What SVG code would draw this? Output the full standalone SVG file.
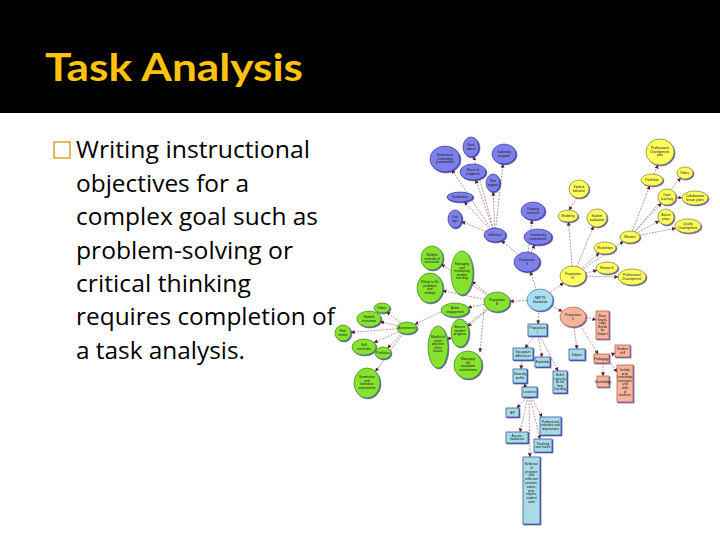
<svg xmlns="http://www.w3.org/2000/svg" width="720" height="540" viewBox="0 0 720 540">
<defs>
<style>
.title{font-family:Lato,"Liberation Sans",sans-serif;font-weight:bold;font-size:38px;fill:#FFC20E}
.body{font-family:"Open Sans","Liberation Sans",sans-serif;font-size:23px;fill:#000}
.n{font-family:"Liberation Sans",Arial,sans-serif;font-size:3.2px;fill:#1a1a1a;text-anchor:middle}
.bl{fill:#7c80e8;stroke:#2a2a9a;stroke-width:0.6}
.ye{fill:#ffff5e;stroke:#707000;stroke-width:0.6}
.gr{fill:#86e22e;stroke:#2e7a00;stroke-width:0.6}
.cb{fill:#a9def0;stroke:#2f6f9f;stroke-width:0.6}
.pk{fill:#f7b49c;stroke:#b05a3a;stroke-width:0.6}
.lb{fill:#a8dbe6;stroke:#2a48a0;stroke-width:0.7}
.pr{fill:#f7b49c;stroke:#b05a3a;stroke-width:0.7}
.c line{stroke:#8a5060;stroke-width:0.6;stroke-dasharray:2 1.2;fill:none;marker-end:url(#ah)}
</style>
<marker id="ah" viewBox="0 0 6 6" refX="5.5" refY="3" markerWidth="4" markerHeight="4" orient="auto" markerUnits="userSpaceOnUse">
<path d="M0,0 L6,3 L0,6 z" fill="#5a2030"/>
</marker>
<filter id="sh" x="-20%" y="-20%" width="150%" height="150%">
<feDropShadow dx="0.9" dy="0.9" stdDeviation="0.2" flood-color="#222288" flood-opacity="0.8"/>
</filter>
</defs>
<rect width="720" height="540" fill="#fff"/>
<rect width="720" height="113" fill="#000"/>
<text class="title" x="45" y="81" textLength="258" lengthAdjust="spacingAndGlyphs">Task Analysis</text>
<rect x="54" y="142" width="16" height="16" fill="none" stroke="#D9A93A" stroke-width="1.6"/>
<g class="body">
<text x="76" y="158" textLength="234" lengthAdjust="spacingAndGlyphs">Writing instructional</text>
<text x="76" y="191.5" textLength="173" lengthAdjust="spacingAndGlyphs">objectives for a</text>
<text x="76" y="225" textLength="242" lengthAdjust="spacingAndGlyphs">complex goal such as</text>
<text x="76" y="258.5" textLength="217" lengthAdjust="spacingAndGlyphs">problem-solving or</text>
<text x="76" y="292" textLength="175" lengthAdjust="spacingAndGlyphs">critical thinking</text>
<text x="76" y="325" textLength="259" lengthAdjust="spacingAndGlyphs">requires completion of</text>
<text x="76" y="358.5" textLength="169" lengthAdjust="spacingAndGlyphs">a task analysis.</text>
</g>

<g id="connectors" class="c">
<line x1="495" y1="235" x2="452" y2="170"/>
<line x1="495" y1="235" x2="473.6" y2="156.5"/>
<line x1="495" y1="235" x2="502.9" y2="164"/>
<line x1="495" y1="235" x2="475.7" y2="179.8"/>
<line x1="495" y1="235" x2="493.2" y2="192"/>
<line x1="495" y1="235" x2="464.3" y2="201.7"/>
<line x1="495" y1="235" x2="461.7" y2="221.7"/>
<line x1="527" y1="262" x2="501.6" y2="240.6"/>
<line x1="527" y1="262" x2="532" y2="220"/>
<line x1="527" y1="262" x2="534.6" y2="244.8"/>
<line x1="540" y1="300" x2="530.3" y2="271.7"/>
<line x1="540" y1="300" x2="563.6" y2="282.9"/>
<line x1="540" y1="300" x2="510" y2="301.4"/>
<line x1="540" y1="300" x2="562.2" y2="311.4"/>
<line x1="540" y1="300" x2="538" y2="324"/>
<line x1="573" y1="276" x2="568.5" y2="222"/>
<line x1="573" y1="276" x2="593.5" y2="226.4"/>
<line x1="573" y1="276" x2="599.2" y2="253.1"/>
<line x1="573" y1="276" x2="623.4" y2="241.5"/>
<line x1="573" y1="276" x2="596.9" y2="270.4"/>
<line x1="573" y1="276" x2="618" y2="277"/>
<line x1="577" y1="198" x2="569" y2="210"/>
<line x1="630" y1="237" x2="649.7" y2="185.9"/>
<line x1="630" y1="237" x2="680.7" y2="178"/>
<line x1="630" y1="237" x2="661.3" y2="203.2"/>
<line x1="630" y1="237" x2="659" y2="220.9"/>
<line x1="630" y1="237" x2="675.8" y2="228.3"/>
<line x1="654" y1="174" x2="658" y2="165"/>
<line x1="676" y1="197" x2="682" y2="198"/>
<line x1="497" y1="302" x2="441.4" y2="264.3"/>
<line x1="497" y1="302" x2="472.2" y2="281.4"/>
<line x1="497" y1="302" x2="442.8" y2="290.7"/>
<line x1="497" y1="302" x2="468" y2="307.5"/>
<line x1="497" y1="302" x2="467.9" y2="326.4"/>
<line x1="497" y1="302" x2="447.4" y2="339.8"/>
<line x1="484" y1="309" x2="480" y2="352"/>
<line x1="441" y1="312" x2="414.8" y2="324.3"/>
<line x1="407" y1="328" x2="386.9" y2="311.9"/>
<line x1="407" y1="328" x2="380.3" y2="321.7"/>
<line x1="407" y1="328" x2="351" y2="332.4"/>
<line x1="407" y1="328" x2="374" y2="342.6"/>
<line x1="407" y1="328" x2="387.7" y2="348.1"/>
<line x1="407" y1="328" x2="375.4" y2="371.5"/>
<line x1="535" y1="336" x2="525" y2="348"/>
<line x1="538" y1="336" x2="542" y2="357"/>
<line x1="540" y1="336" x2="558" y2="371"/>
<line x1="522" y1="360" x2="521" y2="369"/>
<line x1="521" y1="383" x2="527" y2="387"/>
<line x1="527" y1="397" x2="517" y2="408"/>
<line x1="528" y1="397" x2="520" y2="432"/>
<line x1="531" y1="397" x2="542" y2="417"/>
<line x1="530" y1="397" x2="540" y2="439"/>
<line x1="529" y1="397" x2="530" y2="457"/>
<line x1="586" y1="317" x2="596" y2="320"/>
<line x1="574" y1="327" x2="577" y2="349"/>
<line x1="580" y1="325" x2="598" y2="354"/>
<line x1="609" y1="356" x2="615" y2="353"/>
<line x1="603" y1="363" x2="603" y2="376"/>
<line x1="609" y1="361" x2="617" y2="372"/>
</g>

<g filter="url(#sh)">
<g id="business"><ellipse class="bl" cx="445" cy="159" rx="15" ry="13"/><text class="n" x="445" y="156">Business &amp;<tspan x="445" dy="3.6">community</tspan><tspan x="445" dy="3.6">partnerships</tspan></text></g>
<g id="seekadvice"><ellipse class="bl" cx="471" cy="147" rx="8" ry="10"/><text class="n" x="471" y="146">Seek<tspan x="471" dy="3.6">advice</tspan></text></g>
<g id="marketing"><ellipse class="bl" cx="504" cy="154" rx="12" ry="10"/><text class="n" x="504" y="153">marketing<tspan x="504" dy="3.6">program</tspan></text></g>
<g id="errors"><ellipse class="bl" cx="473" cy="172" rx="13" ry="8"/><text class="n" x="473" y="171">Errors of<tspan x="473" dy="3.6">judgment</tspan></text></g>
<g id="peer"><ellipse class="bl" cx="493" cy="183" rx="7" ry="9"/><text class="n" x="493" y="182">Peer<tspan x="493" dy="3.6">support</tspan></text></g>
<g id="vocab"><ellipse class="bl" cx="460" cy="197" rx="13" ry="5"/><text class="n" x="460" y="198">Vocabulary</text></g>
<g id="orallogs"><ellipse class="bl" cx="455" cy="219" rx="7" ry="9"/><text class="n" x="455" y="218">Oral<tspan x="455" dy="3.6">logs</tspan></text></g>
<g id="reflection"><ellipse class="bl" cx="495" cy="235" rx="11" ry="7"/><text class="n" x="495" y="236">reflection</text></g>
<g id="research5"><ellipse class="bl" cx="533" cy="211" rx="12" ry="9"/><text class="n" x="533" y="210">Ongoing<tspan x="533" dy="3.6">research</tspan></text></g>
<g id="community"><ellipse class="bl" cx="538" cy="237" rx="14" ry="8"/><text class="n" x="538" y="236">Community<tspan x="538" dy="3.6">involvement</tspan></text></g>
<g id="prop5"><ellipse class="bl" cx="527" cy="262" rx="13" ry="10"/><text class="n" x="527" y="261">Proposition<tspan x="527" dy="3.6">V</tspan></text></g>

<g id="pdplan"><ellipse class="ye" cx="660" cy="152" rx="14" ry="13"/><text class="n" x="660" y="149">Professional<tspan x="660" dy="3.6">Development</tspan><tspan x="660" dy="3.6">plan</tspan></text></g>
<g id="portfolio"><ellipse class="ye" cx="652" cy="180" rx="11" ry="6"/><text class="n" x="652" y="181">Portfolios</text></g>
<g id="rubric4"><ellipse class="ye" cx="685" cy="173" rx="8" ry="6"/><text class="n" x="685" y="174">Rubric</text></g>
<g id="team"><ellipse class="ye" cx="667" cy="197" rx="9" ry="8"/><text class="n" x="667" y="196">Team<tspan x="667" dy="3.6">teaching</tspan></text></g>
<g id="collab"><ellipse class="ye" cx="695" cy="198" rx="13" ry="7"/><text class="n" x="695" y="197">Collaborative<tspan x="695" dy="3.6">lesson plans</tspan></text></g>
<g id="action"><ellipse class="ye" cx="666" cy="217" rx="8" ry="8"/><text class="n" x="666" y="216">Action<tspan x="666" dy="3.6">plans</tspan></text></g>
<g id="quality"><ellipse class="ye" cx="688" cy="226" rx="13" ry="7"/><text class="n" x="688" y="225">Quality<tspan x="688" dy="3.6">Development</tspan></text></g>
<g id="mentors"><ellipse class="ye" cx="630" cy="237" rx="10" ry="6"/><text class="n" x="630" y="238">Mentors</text></g>
<g id="studbeh"><ellipse class="ye" cx="579" cy="189" rx="10" ry="9"/><text class="n" x="579" y="188">Student<tspan x="579" dy="3.6">behavior</tspan></text></g>
<g id="modeling"><ellipse class="ye" cx="568" cy="216" rx="10" ry="6"/><text class="n" x="568" y="217">Modeling</text></g>
<g id="studeval"><ellipse class="ye" cx="597" cy="218" rx="10" ry="9"/><text class="n" x="597" y="217">Student<tspan x="597" dy="3.6">evaluation</tspan></text></g>
<g id="workshops"><ellipse class="ye" cx="605" cy="248" rx="11" ry="6"/><text class="n" x="605" y="249">Workshops</text></g>
<g id="research4"><ellipse class="ye" cx="607" cy="268" rx="11" ry="6"/><text class="n" x="607" y="269">Research</text></g>
<g id="profdev"><ellipse class="ye" cx="632" cy="277" rx="14" ry="8"/><text class="n" x="632" y="276">Professional<tspan x="632" dy="3.6">Development</tspan></text></g>
<g id="prop4"><ellipse class="ye" cx="573" cy="276" rx="13" ry="10"/><text class="n" x="573" y="275">Proposition<tspan x="573" dy="3.6">IV</tspan></text></g>

<g id="multiple"><ellipse class="gr" cx="432" cy="258" rx="11" ry="12"/><text class="n" x="432" y="256">Multiple<tspan x="432" dy="3.6">methods of</tspan><tspan x="432" dy="3.6">instruction</tspan></text></g>
<g id="managing"><ellipse class="gr" cx="462" cy="273" rx="11" ry="22"/><text class="n" x="462" y="265">Managing<tspan x="462" dy="3.6">and</tspan><tspan x="462" dy="3.6">monitoring</tspan><tspan x="462" dy="3.6">student</tspan><tspan x="462" dy="3.6">learning</tspan></text></g>
<g id="realworld"><ellipse class="gr" cx="430" cy="288" rx="13" ry="15"/><text class="n" x="430" y="283">Relate to life<tspan x="430" dy="3.6">problems</tspan><tspan x="430" dy="3.6">and</tspan><tspan x="430" dy="3.6">settings</tspan></text></g>
<g id="prop3"><ellipse class="gr" cx="497" cy="302" rx="13" ry="10"/><text class="n" x="497" y="301">Proposition<tspan x="497" dy="3.6">III</tspan></text></g>
<g id="active"><ellipse class="gr" cx="455" cy="310" rx="14" ry="7"/><text class="n" x="455" y="309">Active<tspan x="455" dy="3.6">engagement</tspan></text></g>
<g id="assessment"><ellipse class="gr" cx="407" cy="328" rx="10" ry="6"/><text class="n" x="407" y="329">Assessment</text></g>
<g id="assess"><ellipse class="gr" cx="460" cy="333" rx="9" ry="14"/><text class="n" x="460" y="328">Assess<tspan x="460" dy="3.6">student</tspan><tspan x="460" dy="3.6">progress</tspan></text></g>
<g id="mindful"><ellipse class="gr" cx="438" cy="347" rx="10" ry="21"/><text class="n" x="438" y="338">Mindful of<tspan x="438" dy="3.6">main</tspan><tspan x="438" dy="3.6">objective</tspan><tspan x="438" dy="3.6">of the</tspan><tspan x="438" dy="3.6">lesson</tspan></text></g>
<g id="classroom"><ellipse class="gr" cx="468" cy="365" rx="14" ry="14"/><text class="n" x="468" y="360">Managing<tspan x="468" dy="3.6">the</tspan><tspan x="468" dy="3.6">classroom</tspan><tspan x="468" dy="3.6">environment</tspan></text></g>
<g id="rubric3"><ellipse class="gr" cx="382" cy="308" rx="8" ry="5"/><text class="n" x="382" y="309">Rubric</text></g>
<g id="interviews"><ellipse class="gr" cx="369" cy="319" rx="12" ry="8"/><text class="n" x="369" y="318">Student<tspan x="369" dy="3.6">interviews</tspan></text></g>
<g id="peerreview"><ellipse class="gr" cx="343" cy="333" rx="8" ry="8"/><text class="n" x="343" y="332">Peer<tspan x="343" dy="3.6">review</tspan></text></g>
<g id="selfcorr"><ellipse class="gr" cx="364" cy="347" rx="12" ry="8"/><text class="n" x="364" y="346">Self<tspan x="364" dy="3.6">correction</tspan></text></g>
<g id="portfolios3"><ellipse class="gr" cx="383" cy="353" rx="8" ry="6"/><text class="n" x="383" y="354">Portfolios</text></g>
<g id="summative"><ellipse class="gr" cx="367" cy="383" rx="13" ry="15"/><text class="n" x="367" y="378">Summative<tspan x="367" dy="3.6">and</tspan><tspan x="367" dy="3.6">formative</tspan><tspan x="367" dy="3.6">assessment</tspan></text></g>

<g id="nbpts"><ellipse class="cb" cx="540" cy="300" rx="13" ry="11"/><text class="n" x="540" y="299">NBPTS<tspan x="540" dy="3.6">Standards</tspan></text></g>

<g id="prop2"><ellipse class="pk" cx="573" cy="317" rx="13" ry="10"/><text class="n" x="573" y="316">Proposition<tspan x="573" dy="3.6">II</tspan></text></g>
<g id="basic"><rect class="pr" x="596" y="311" width="13" height="28"/><text class="n" x="602.5" y="317">Basic<tspan x="602.5" dy="3.6">Knowl-</tspan><tspan x="602.5" dy="3.6">edge</tspan><tspan x="602.5" dy="3.6">Needs</tspan><tspan x="602.5" dy="3.6">for</tspan><tspan x="602.5" dy="3.6">Subject</tspan></text></g>
<g id="subject"><rect class="lb" x="569" y="349" width="16" height="11"/><text class="n" x="577" y="355.8">Subject</text></g>
<g id="pedagogy"><rect class="pr" x="594" y="354" width="15" height="9"/><text class="n" x="601.5" y="359.7">Pedagogy</text></g>
<g id="skill"><rect class="pr" x="615" y="345" width="15" height="12"/><text class="n" x="622.5" y="350">Student<tspan x="622.5" dy="3.6">skill</tspan></text></g>
<g id="knowledge"><rect class="pr" x="597" y="376" width="12" height="11"/><text class="n" x="603" y="382.6">Knowledge</text></g>
<g id="prior"><rect class="pr" x="617" y="365" width="16" height="37"/><text class="n" x="625" y="371">Include<tspan x="625" dy="3.6">prior</tspan><tspan x="625" dy="3.6">knowledge</tspan><tspan x="625" dy="3.6">strategies</tspan><tspan x="625" dy="3.6">and</tspan><tspan x="625" dy="3.6">skills</tspan><tspan x="625" dy="3.6">of</tspan><tspan x="625" dy="3.6">students</tspan></text></g>

<g id="prop1"><rect class="lb" x="528" y="324" width="19" height="12"/><text class="n" x="537.5" y="329">Proposition<tspan x="537.5" dy="3.6">I</tspan></text></g>
<g id="recognize"><rect class="lb" x="513" y="348" width="20" height="12"/><text class="n" x="523" y="353">Recognize<tspan x="523" dy="3.6">differences</tspan></text></g>
<g id="equitable"><rect class="lb" x="535" y="357" width="15" height="10"/><text class="n" x="542.5" y="363">Equitable</text></g>
<g id="belief"><rect class="lb" x="553" y="371" width="14" height="22"/><text class="n" x="560" y="376">Belief<tspan x="560" dy="3.6">capacity</tspan><tspan x="560" dy="3.6">for life</tspan><tspan x="560" dy="3.6">long</tspan><tspan x="560" dy="3.6">learning</tspan></text></g>
<g id="diversity"><rect class="lb" x="513" y="369" width="14" height="14"/><text class="n" x="520" y="375">Diversity<tspan x="520" dy="3.6">profile</tspan></text></g>
<g id="learners"><rect class="lb" x="522" y="387" width="15" height="10"/><text class="n" x="529.5" y="393">Learners</text></g>
<g id="iep"><rect class="lb" x="506" y="408" width="13" height="9"/><text class="n" x="512.5" y="413.6">IEP</text></g>
<g id="accom"><rect class="lb" x="506" y="432" width="22" height="11"/><text class="n" x="517" y="436.8">Accom-<tspan x="517" dy="3.6">modations</tspan></text></g>
<g id="attitudes"><rect class="lb" x="540" y="417" width="21" height="18"/><text class="n" x="550.5" y="422.5">Professional<tspan x="550.5" dy="3.6">attitudes and</tspan><tspan x="550.5" dy="3.6">dispositions</tspan></text></g>
<g id="teaching"><rect class="lb" x="534" y="439" width="18" height="13"/><text class="n" x="543" y="444.5">Teaching<tspan x="543" dy="3.6">own future</tspan></text></g>
<g id="evidence"><rect class="lb" x="523" y="457" width="17" height="67"/><text class="n" x="531.5" y="465">Evidence<tspan x="531.5" dy="3.8">of</tspan><tspan x="531.5" dy="3.8">progress</tspan><tspan x="531.5" dy="3.8">and</tspan><tspan x="531.5" dy="3.8">reflection</tspan><tspan x="531.5" dy="3.8">journals,</tspan><tspan x="531.5" dy="3.8">videos,</tspan><tspan x="531.5" dy="3.8">peer</tspan><tspan x="531.5" dy="3.8">reports,</tspan><tspan x="531.5" dy="3.8">student</tspan><tspan x="531.5" dy="3.8">work</tspan></text></g>
</g>
</svg>
